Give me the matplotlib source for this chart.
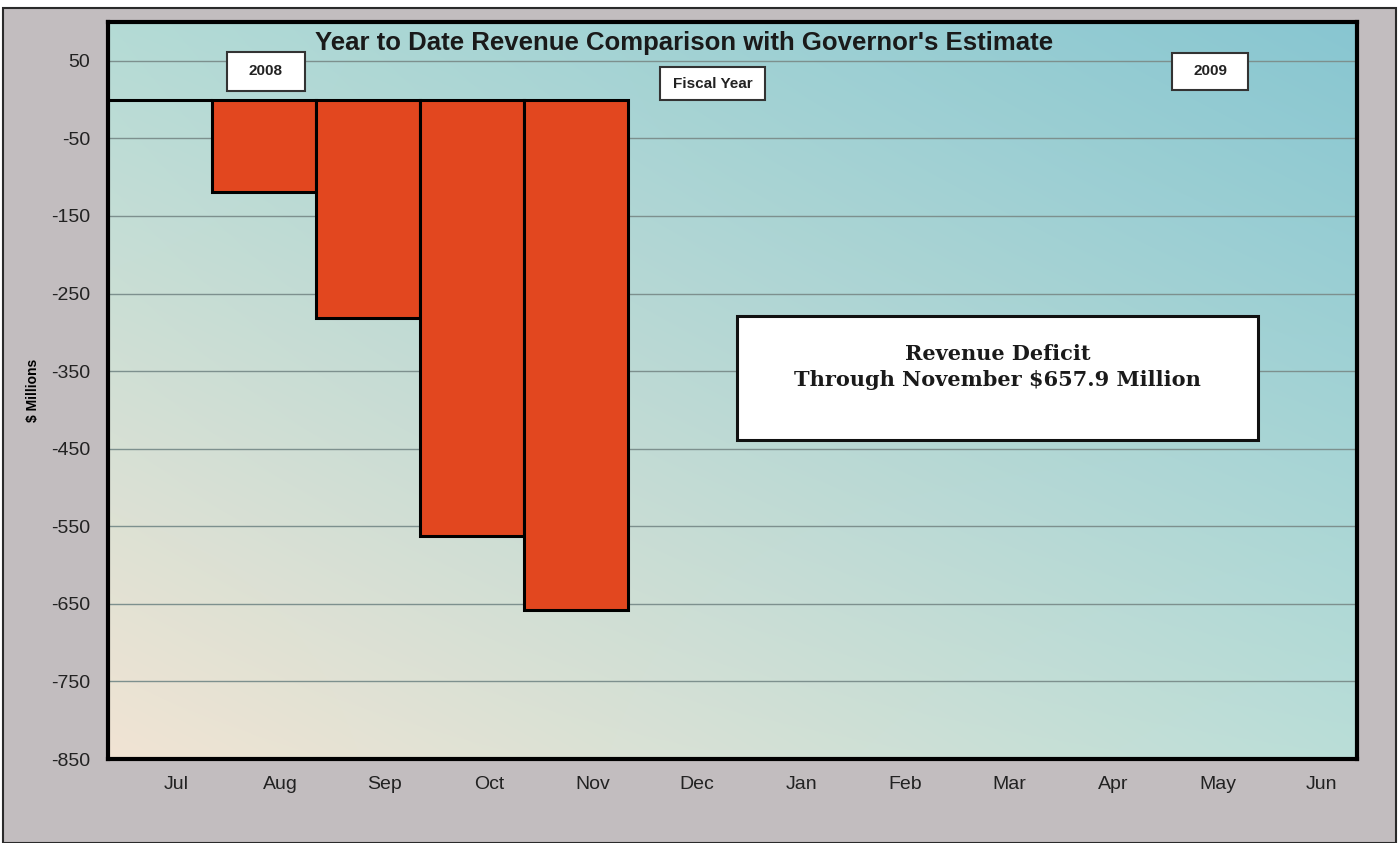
import numpy as np
import matplotlib
matplotlib.use("Agg")
import matplotlib.pyplot as plt
from matplotlib.patches import Rectangle

# data ($ millions, year to date vs. estimate)
months = ["Jul", "Aug", "Sep", "Oct", "Nov", "Dec", "Jan", "Feb", "Mar", "Apr", "May", "Jun"]
deficit = [0.0, -118.7, -280.9, -562.9, -657.9]
yticks = [50, -50, -150, -250, -350, -450, -550, -650, -750, -850]

plt.rcParams['font.family'] = ['Liberation Sans', 'DejaVu Sans']

fig = plt.figure(figsize=(14, 8.43), dpi=100)
fig.patch.set_facecolor('white')

# grey panel behind everything
panel = Rectangle((3 / 1400, 0), 1393 / 1400, 1 - 8 / 843, transform=fig.transFigure,
                  facecolor='#c2bdbf', edgecolor='#2a2a2a', linewidth=1.5, zorder=-5)
fig.add_artist(panel)

ax = fig.add_axes([0.0771, 0.0996, 0.8922, 0.8743])

# diagonal gradient: beige bottom-left -> teal top-right
bl = np.array([241, 228, 211]) / 255
tl = np.array([180, 219, 214]) / 255
br = np.array([186, 222, 216]) / 255
tr = np.array([136, 198, 209]) / 255
u = np.linspace(0, 1, 200)[None, :, None]
v = np.linspace(1, 0, 120)[:, None, None]
grad = (1 - u) * (1 - v) * bl + u * (1 - v) * br + (1 - u) * v * tl + u * v * tr
ax.imshow(grad, extent=(0, 1, 0, 1), transform=ax.transAxes, aspect='auto',
          zorder=-1, interpolation='bicubic')

x = np.arange(len(deficit))
ax.bar(x, deficit, width=1.0, color='#e2471f', edgecolor='black', linewidth=2.2, zorder=3)

ax.set_xlim(-0.5, 11.5)
ax.set_ylim(-850, 100)
ax.set_yticks(yticks)
ax.set_yticklabels([str(t) for t in yticks])
ax.set_xticks(np.arange(len(months)) + 0.16)
ax.set_xticklabels(months)
ax.tick_params(length=0, labelsize=14, labelcolor='#222222')
ax.tick_params(axis='y', pad=13)
ax.tick_params(axis='x', pad=12)
ax.yaxis.grid(True, color='#7d908e', linewidth=1)
ax.set_axisbelow(True)
for s in ax.spines.values():
    s.set_linewidth(3)
    s.set_color('black')

ax.set_ylabel("$ Millions", fontsize=10, fontweight='bold', labelpad=8)

ax.text(0.461, 0.971, "Year to Date Revenue Comparison with Governor's Estimate",
        transform=ax.transAxes, ha='center', va='center', fontsize=18.5,
        fontweight='bold', color='#1a1a1a')

# small labelled boxes
def label_box(x0, y0, w, h, text):
    ax.add_patch(Rectangle((x0, y0), w, h, transform=ax.transAxes, facecolor='white',
                           edgecolor='#333333', linewidth=1.5, zorder=4))
    ax.text(x0 + w / 2, y0 + h / 2, text, transform=ax.transAxes, ha='center',
            va='center', fontsize=11, fontweight='bold', color='#222222', zorder=5)

label_box(0.0953, 0.9064, 0.0624, 0.0529, "2008")
label_box(0.442, 0.894, 0.084, 0.045, "Fiscal Year")
label_box(0.852, 0.908, 0.061, 0.050, "2009")

# deficit note
ax.add_patch(Rectangle((0.504, 0.433), 0.417, 0.168, transform=ax.transAxes,
                       facecolor='white', edgecolor='#111111', linewidth=2.2, zorder=4))
ax.text(0.7125, 0.532, "Revenue Deficit\nThrough November $657.9 Million",
        transform=ax.transAxes, ha='center', va='center', fontsize=15,
        fontweight='bold', family='DejaVu Serif', linespacing=1.4,
        color='#1a1a1a', zorder=5)

fig.savefig("out.png", dpi=100)
